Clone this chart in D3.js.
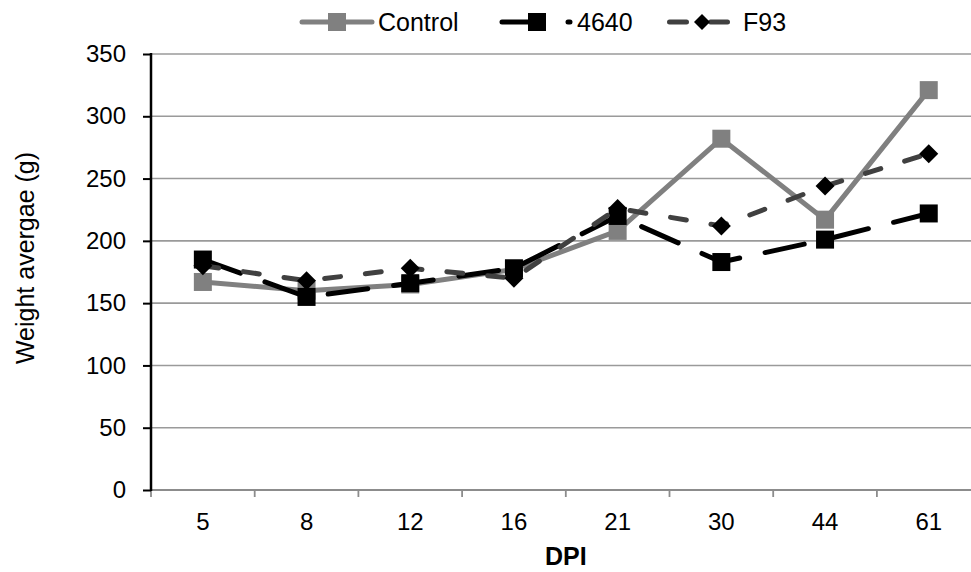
<!DOCTYPE html>
<html>
<head>
<meta charset="utf-8">
<script src="https://cdn.jsdelivr.net/npm/d3@7"></script>
<style>
  html, body { margin: 0; padding: 0; background: #fff; }
  svg { display: block; }
  text { font-family: "Liberation Sans", Arial, sans-serif; fill: #000; }
</style>
</head>
<body>
<svg id="chart" width="971" height="572"></svg>
<script>
const categories = ["5", "8", "12", "16", "21", "30", "44", "61"];
const controlValues = [167, 160, 165, 177, 208, 282, 217, 321];
const s4640Values = [185, 155, 166, 178, 220, 183, 201, 222];
const f93Values = [180, 168, 178, 170, 226, 212, 244, 270];
const yTicks = [0, 50, 100, 150, 200, 250, 300, 350];
const seriesNames = ["Control", "4640", "F93"];

(function () {
const svg = d3.select("#chart");
const W = 971, H = 572;
const plotLeft = 151, plotTop = 54, plotBottom = 490;
const bandW = 103.7;
const plotRight = plotLeft + bandW * categories.length;

const x = d3.scaleBand().domain(categories).range([plotLeft, plotRight]).padding(0);
const y = d3.scaleLinear().domain([0, 350]).range([plotBottom, plotTop]);

// gridlines
svg.append("g").selectAll("line").data(yTicks.filter(d => d > 0)).join("line")
  .attr("x1", plotLeft).attr("x2", W)
  .attr("y1", d => y(d)).attr("y2", d => y(d))
  .attr("stroke", "#9a9a9a").attr("stroke-width", 1.6);

// x axis
const xAxis = d3.axisBottom(x).tickSize(0).tickPadding(0);
const gx = svg.append("g").attr("transform", `translate(0,${plotBottom})`).call(xAxis);
gx.select(".domain").remove();
gx.selectAll("text").attr("font-size", 24).attr("dy", null).attr("y", 40)
  .style("font-family", "Liberation Sans, Arial, sans-serif");
svg.append("line").attr("x1", plotLeft).attr("x2", W).attr("y1", plotBottom).attr("y2", plotBottom)
  .attr("stroke", "#8c8c8c").attr("stroke-width", 2);
const bounds = d3.range(categories.length + 1).map(i => plotLeft + i * bandW);
svg.append("g").selectAll("line").data(bounds).join("line")
  .attr("x1", d => d).attr("x2", d => d).attr("y1", plotBottom).attr("y2", plotBottom + 7)
  .attr("stroke", "#8c8c8c").attr("stroke-width", 1.8);

// y axis
const yAxis = d3.axisLeft(y).tickValues(yTicks).tickSize(8).tickPadding(17);
const gy = svg.append("g").attr("transform", `translate(${plotLeft},0)`).call(yAxis);
gy.select(".domain").remove();
gy.selectAll(".tick line").attr("stroke", "#000").attr("stroke-width", 2);
gy.selectAll("text").attr("font-size", 24)
  .style("font-family", "Liberation Sans, Arial, sans-serif");
svg.append("line").attr("x1", plotLeft).attr("x2", plotLeft).attr("y1", plotTop - 1).attr("y2", plotBottom + 1)
  .attr("stroke", "#000").attr("stroke-width", 2.5);

// axis titles
svg.append("text").attr("x", (plotLeft + plotRight) / 2).attr("y", 565).attr("text-anchor", "middle")
  .attr("font-size", 25).attr("font-weight", "bold").text("DPI");
svg.append("text").attr("transform", `translate(34,258) rotate(-90)`)
  .attr("text-anchor", "middle").attr("font-size", 25).text("Weight avergae (g)");

const cx = d => x(d) + x.bandwidth() / 2;
const line = d3.line().x(d => cx(d.c)).y(d => y(d.v));

const series = [
  { name: seriesNames[0], values: controlValues, color: "#808080", dash: null, marker: "square", mcolor: "#808080" },
  { name: seriesNames[1], values: s4640Values, color: "#000000", dash: "40 26", marker: "square", mcolor: "#000000" },
  { name: seriesNames[2], values: f93Values, color: "#404040", dash: "16 25", marker: "diamond", mcolor: "#000000" }
];

function drawMarker(g, type, color, size) {
  if (type === "square") {
    g.append("rect").attr("x", -size / 2).attr("y", -size / 2).attr("width", size).attr("height", size)
      .attr("fill", color);
  } else {
    const s = size / 2;
    g.append("path").attr("d", `M0,${-s}L${s},0L0,${s}L${-s},0Z`).attr("fill", color);
  }
}

series.forEach(s => {
  const data = s.values.map((v, i) => ({ c: categories[i], v }));
  svg.append("path").datum(data).attr("d", line)
    .attr("fill", "none").attr("stroke", s.color).attr("stroke-width", 5)
    .attr("stroke-linecap", s.dash ? "round" : "butt").attr("stroke-linejoin", "round")
    .attr("stroke-dasharray", s.dash);
  data.forEach(d => {
    const g = svg.append("g").attr("transform", `translate(${cx(d.c)},${y(d.v)})`);
    drawMarker(g, s.marker, s.mcolor, s.marker === "square" ? 18 : 19);
  });
});

// legend
const legendItems = [
  { s: series[0], x1: 302, x2: 372, mx: 337, tx: 378, dash: null },
  { s: series[1], x1: 502, x2: 570, mx: 537, tx: 577, dash: "40 26" },
  { s: series[2], x1: 669.5, x2: 730, mx: 702, tx: 743, dash: "17 24" }
];
legendItems.forEach(it => {
  const ly = 22;
  svg.append("line").attr("x1", it.x1).attr("x2", it.x2).attr("y1", ly).attr("y2", ly)
    .attr("stroke", it.s.color).attr("stroke-width", 5)
    .attr("stroke-linecap", "round")
    .attr("stroke-dasharray", it.dash);
  const g = svg.append("g").attr("transform", `translate(${it.mx},${ly})`);
  drawMarker(g, it.s.marker, it.s.mcolor, it.s.marker === "square" ? 18 : 16);
  svg.append("text").attr("x", it.tx).attr("y", 31).attr("font-size", 25).text(it.s.name);
});
})();
</script>
</body>
</html>
